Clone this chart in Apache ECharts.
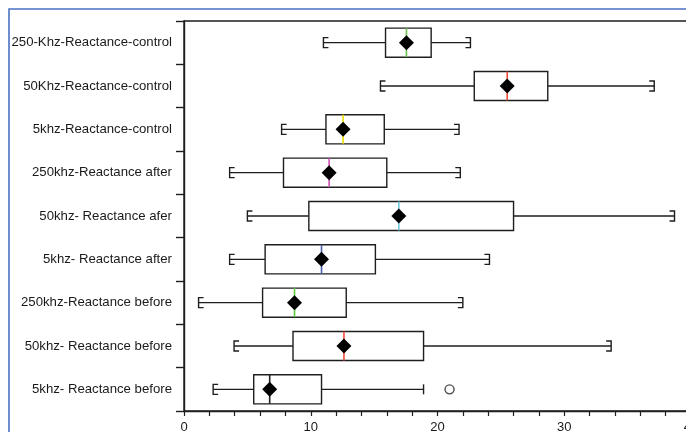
<!DOCTYPE html>
<html><head><meta charset="utf-8">
<script src="https://cdn.jsdelivr.net/npm/echarts@6/dist/echarts.min.js"></script>
<style>html,body{margin:0;padding:0;background:#fff}#c{width:686px;height:432px}</style>
</head><body><div id="c"></div>
<script>
const categories = ['250-Khz-Reactance-control','50Khz-Reactance-control','5khz-Reactance-control','250khz-Reactance after','50khz- Reactance afer','5khz- Reactance after','250khz-Reactance before','50khz- Reactance before','5khz- Reactance before'];
const whiskerLow  = [11.0, 15.5,  7.7,  3.6,  5.0,  3.6,  1.15, 3.95, 2.3];
const q1          = [15.9, 22.9, 11.2,  7.85, 9.85, 6.4,  6.2,  8.6,  5.5];
const median      = [17.55,25.5, 12.55,11.45,16.95,10.85, 8.72,12.62, 6.76];
const q3          = [19.5, 28.7, 15.8, 16.0, 26.0, 15.1, 12.8, 18.9, 10.85];
const whiskerHigh = [22.6, 37.1, 21.7, 21.8, 38.7, 24.1, 22.0, 33.7, 18.9];
const mean        = [17.55,25.5, 12.55,11.45,16.95,10.85, 8.72,12.62, 6.76];
const outliers    = [[8, 20.95]];
const xTicks = [0, 10, 20, 30, 40];
const medianColors = ['#6cc24a','#f24b3c','#e8e000','#d04fb8','#6cc8dc','#4a5fae','#5ccc3a','#f24b3c','#222222'];

const boxData = categories.map((c, i) => [i, whiskerLow[i], q1[i], median[i], q3[i], whiskerHigh[i], mean[i]]);
const outlierRows = new Set(outliers.map(o => o[0]));
const ink = '#1e1e1e';

function renderItem(params, api) {
  const idx = api.value(0);
  const y = api.coord([0, idx])[1];
  const band = api.size([0, 1])[1];
  const h = band * 0.67;
  const X = v => api.coord([v, idx])[0];
  const xl = X(api.value(1)), xq1 = X(api.value(2)), xm = X(api.value(3)), xq3 = X(api.value(4)), xh = X(api.value(5)), xmean = X(api.value(6));
  const ls = {stroke: ink, lineWidth: 1.4, fill: null};
  const cap = 5, stub = 5;
  const ch = [];
  ch.push({type:'line', shape:{x1:xl,y1:y,x2:xq1,y2:y}, style:ls});
  ch.push({type:'line', shape:{x1:xq3,y1:y,x2:xh,y2:y}, style:ls});
  ch.push({type:'polyline', shape:{points:[[xl+stub,y-cap],[xl,y-cap],[xl,y+cap],[xl+stub,y+cap]]}, style:ls});
  if (outlierRows.has(idx)) {
    ch.push({type:'line', shape:{x1:xh,y1:y-cap,x2:xh,y2:y+cap}, style:ls});
  } else {
    ch.push({type:'polyline', shape:{points:[[xh-stub,y-cap],[xh,y-cap],[xh,y+cap],[xh-stub,y+cap]]}, style:ls});
  }
  ch.push({type:'rect', shape:{x:xq1,y:y-h/2,width:xq3-xq1,height:h}, style:{stroke:ink,lineWidth:1.4,fill:'#fff'}});
  ch.push({type:'line', shape:{x1:xm,y1:y-h/2,x2:xm,y2:y+h/2}, style:{stroke:medianColors[idx],lineWidth:1.6}});
  const d = 7.5;
  ch.push({type:'polygon', shape:{points:[[xmean-d,y],[xmean,y-d],[xmean+d,y],[xmean,y+d]]}, style:{fill:'#000'}});
  return {type:'group', children: ch};
}

const chart = echarts.init(document.getElementById('c'), null, {renderer:'canvas'});
chart.setOption({
  animation: false,
  backgroundColor: '#fff',
  graphic: [{type:'rect', z: 100, shape:{x:9,y:9,width:720,height:500}, style:{fill:null, stroke:'#4a72c4', lineWidth:1.6}}],
  grid: {left:184, top:21, width:507, bottom:21, show:true, borderColor:ink, borderWidth:1.4, containLabel:false, outerBoundsMode:'none'},
  xAxis: {
    type:'value', min:xTicks[0], max:xTicks[xTicks.length-1], interval:10,
    axisLine:{show:true, lineStyle:{color:ink, width:1.4}},
    axisTick:{show:true, length:5, lineStyle:{color:ink, width:1.2}},
    minorTick:{show:true, splitNumber:5, length:5, lineStyle:{color:ink, width:1.2}},
    splitLine:{show:false},
    axisLabel:{color:'#1a1a1a', fontFamily:'Liberation Sans, Arial', fontSize:13, margin:10}
  },
  yAxis: {
    type:'category', data:categories, inverse:true,
    axisLine:{show:true, lineStyle:{color:ink, width:1.4}},
    axisTick:{show:true, length:8, lineStyle:{color:ink, width:1.4}},
    axisLabel:{color:'#1a1a1a', fontFamily:'Liberation Sans, Arial', fontSize:13.2, margin:12}
  },
  series: [
    {type:'custom', renderItem: renderItem, data: boxData, encode:{x:[1,2,3,4,5], y:0}},
    {type:'scatter', data: outliers.map(o => [o[1], o[0]]), symbol:'circle', symbolSize:9,
     itemStyle:{color:'#fff', borderColor:ink, borderWidth:1.4}}
  ]
});
</script></body></html>
